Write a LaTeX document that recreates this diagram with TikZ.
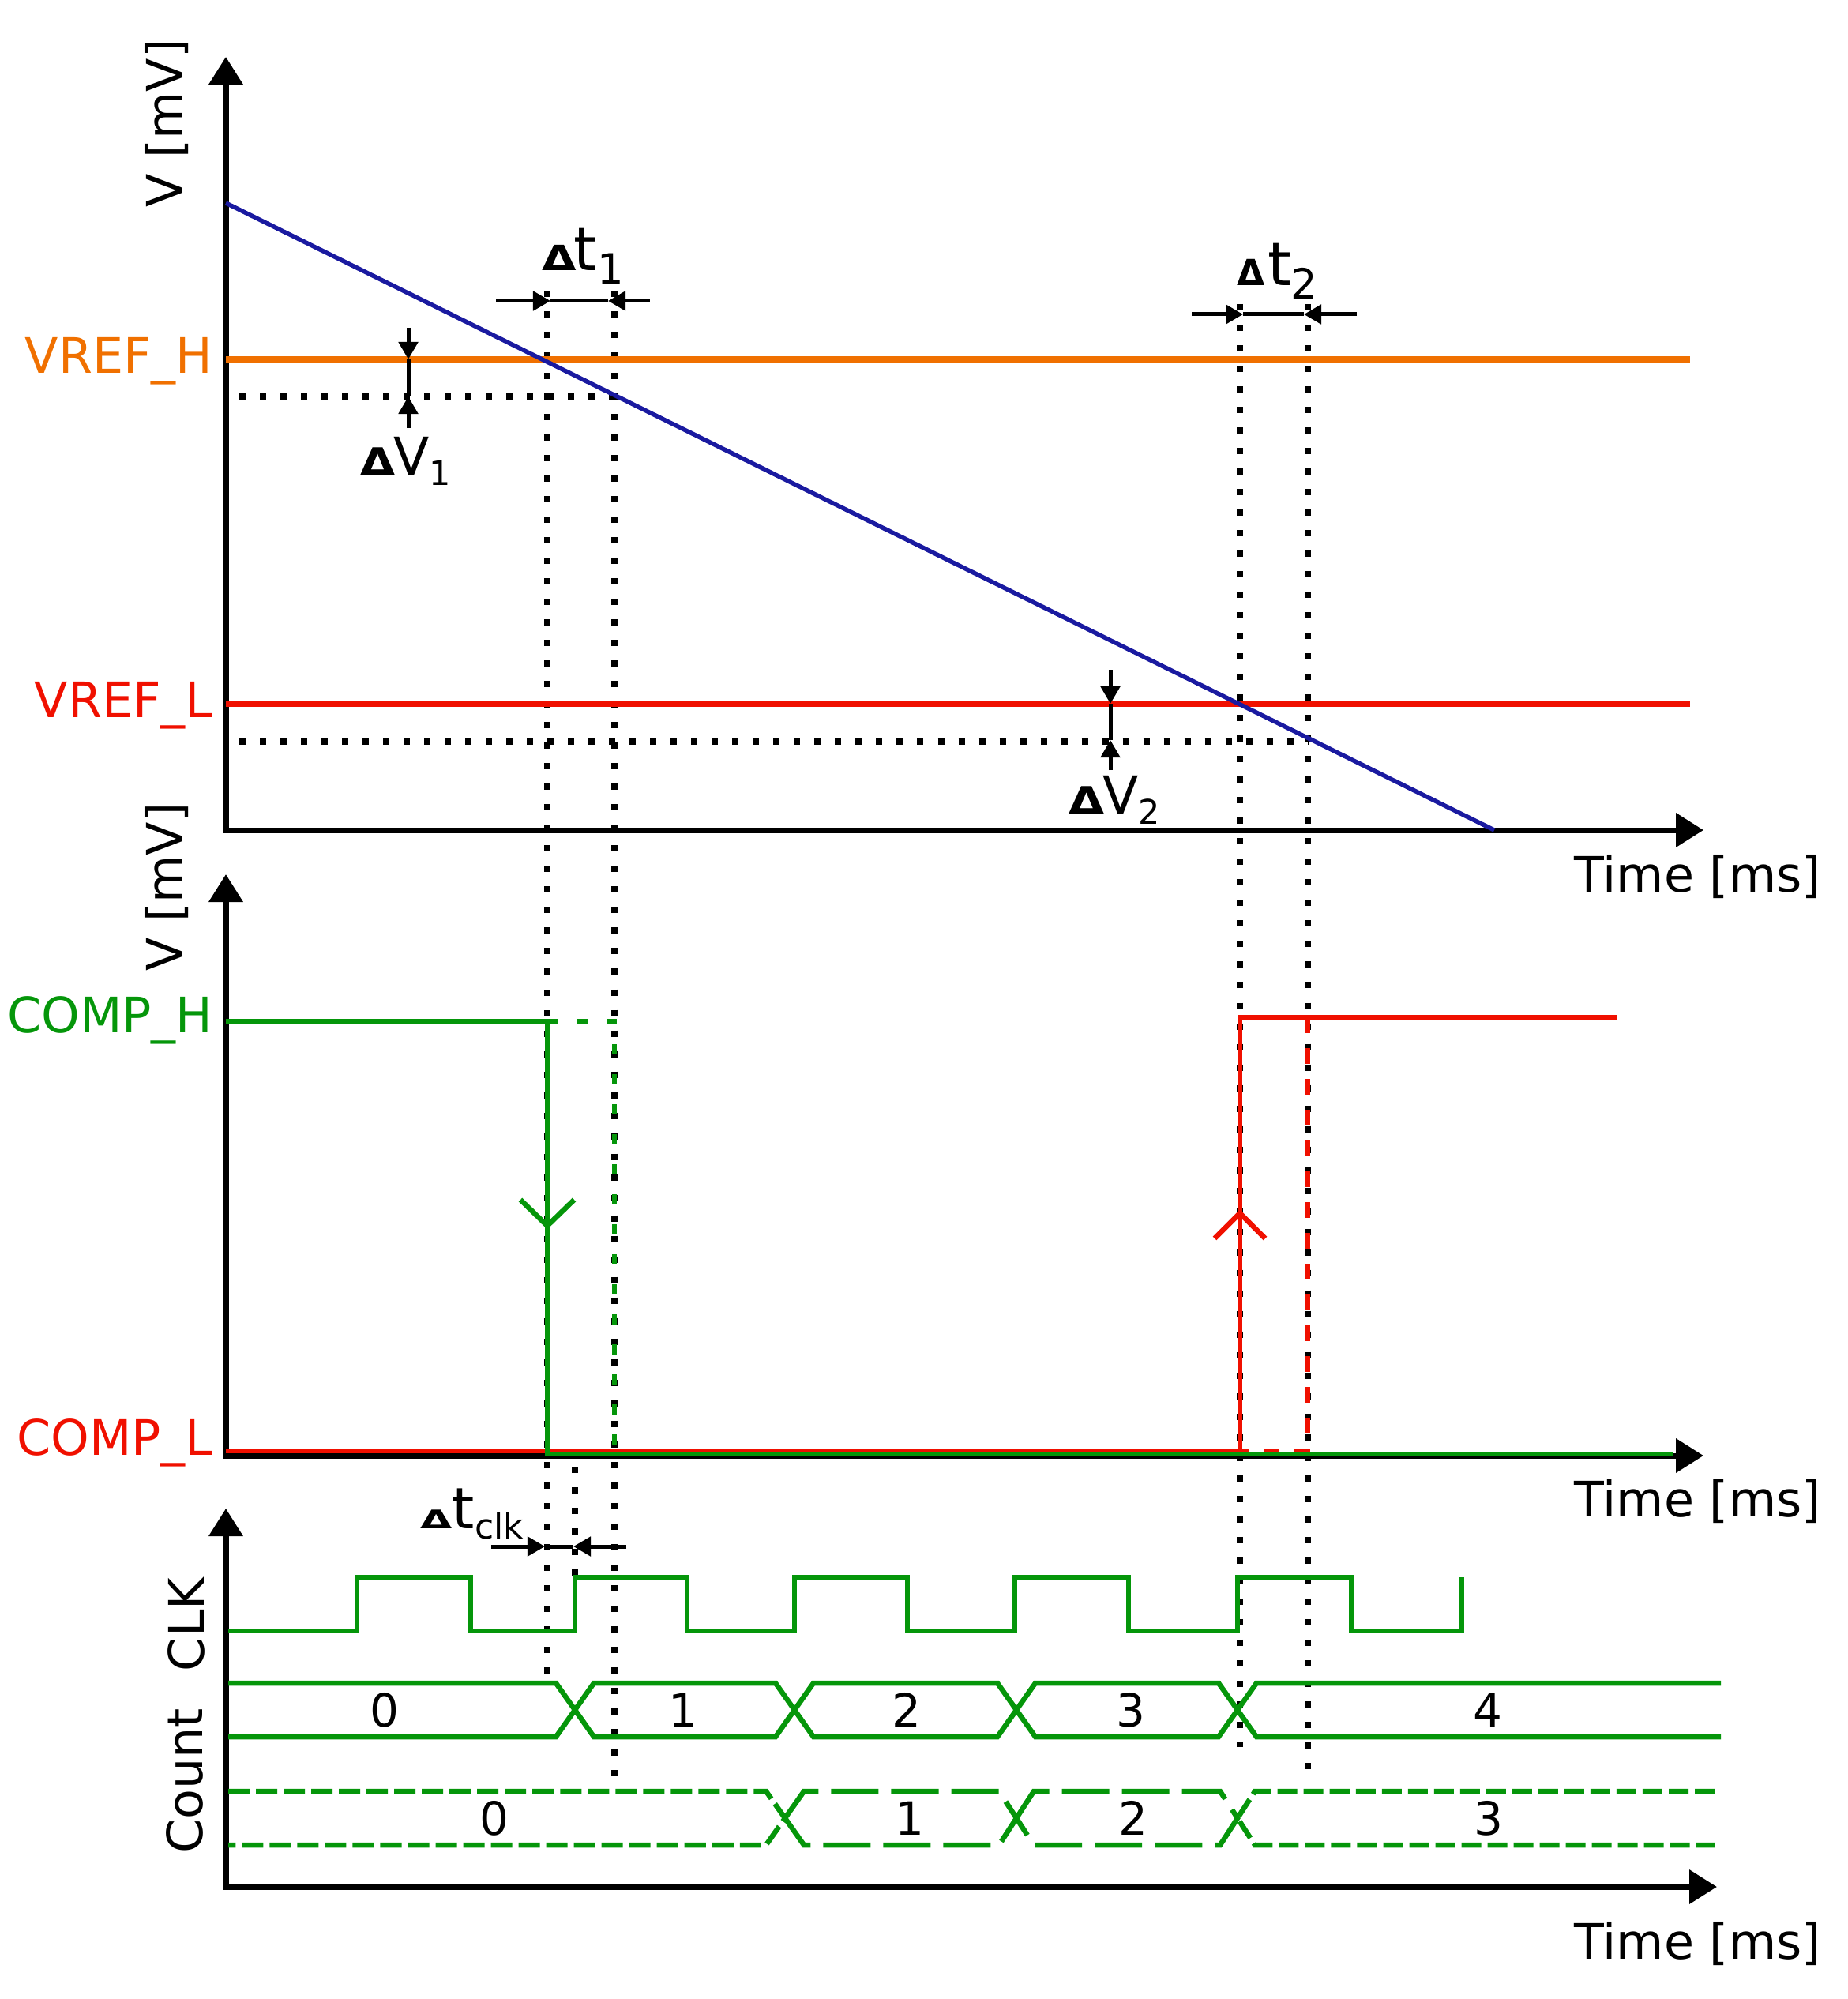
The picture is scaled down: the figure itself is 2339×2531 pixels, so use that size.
\documentclass[tikz,border=0pt]{standalone}
\usepackage{fontspec}
\setmainfont{DejaVu Sans}
\usepackage{graphicx}
\usetikzlibrary{arrows.meta}
\definecolor{vorange}{RGB}{240,112,0}
\definecolor{vred}{RGB}{240,16,0}
\definecolor{vblue}{RGB}{26,26,160}
\definecolor{vgreen}{RGB}{5,150,10}
\newcommand\dtri[2]{\scalebox{#1}[#2]{\bfseries Δ}}
\tikzset{
  axisline/.style={line width=0.07cm},
  axtip/.tip={Triangle[length=0.35cm,width=0.42cm]},
  dimtip/.tip={Triangle[length=0.22cm,width=0.24cm]},
  dimarrow/.style={line width=0.05cm,-dimtip},
  dimline/.style={line width=0.05cm},
  dotline/.style={line width=0.08cm,dash pattern=on 0.08cm off 0.18cm},
  wave/.style={line width=0.065cm,vgreen},
  lbl/.style={font=\fontsize{17.6}{20}\selectfont,inner sep=0pt},
  digit/.style={font=\fontsize{16.5}{19}\selectfont,inner sep=0pt},
}
\begin{document}
\begin{tikzpicture}[x=0.01cm,y=-0.01cm]
\useasboundingbox (0,0) rectangle (2339,2531);

% ---------- dotted guide lines ----------
\draw[dotline] (303,502) -- (778,502);
\draw[dotline] (303,939) -- (1656,939);
\draw[dotline] (693,368) -- (693,2120);
\draw[dotline] (778,368) -- (778,2258);
\draw[dotline] (1570,385) -- (1570,2212);
\draw[dotline] (1656,385) -- (1656,2248);
\draw[dotline] (728,1857) -- (728,1995);

% ---------- axes ----------
\draw[axisline,axtip-axtip] (286,72) -- (286,1051) -- (2157,1051);
\draw[axisline,axtip-axtip] (286,1107) -- (286,1843) -- (2157,1843);
\draw[axisline,axtip-axtip] (286,1910) -- (286,2389) -- (2174,2389);

% ---------- top panel ----------
\draw[vorange,line width=0.075cm] (286,455) -- (2140,455);
\draw[vred,line width=0.075cm] (286,891) -- (2140,891);
\draw[vblue,line width=0.055cm] (286,257) -- (1892,1051);

\node[lbl,rotate=90,anchor=base] (vaxis1) at (230,156) {V [mV]};
\node[lbl,text=vorange,anchor=base east] (vrefh) at (270,473) {VREF\_H};
\node[lbl,text=vred,anchor=base east] (vrefl) at (270,908) {VREF\_L};
\node[lbl,anchor=base west] (time1) at (1993,1129) {Time [ms]};

% delta V1
\coordinate (v1a) at (517,415); \coordinate (v1b) at (517,455);
\coordinate (v1c) at (517,502); \coordinate (v1d) at (517,542);
\draw[dimarrow] (v1a) -- (v1b);
\draw[dimarrow] (v1d) -- (v1c);
\draw[dimline] (v1b) -- (v1c);
\node[inner sep=0pt,anchor=base west] (dv1) at (456,602)
  {\fontsize{18.8}{21}\selectfont\dtri{0.86}{0.72}\kern-0.03em V\raisebox{-0.12cm}{\fontsize{12.2}{14}\selectfont 1}};

% delta V2
\coordinate (v2a) at (1406,848); \coordinate (v2b) at (1406,891);
\coordinate (v2c) at (1406,937); \coordinate (v2d) at (1406,975);
\draw[dimarrow] (v2a) -- (v2b);
\draw[dimarrow] (v2d) -- (v2c);
\draw[dimline] (v2b) -- (v2c);
\node[inner sep=0pt,anchor=base west] (dv2) at (1353,1030)
  {\fontsize{18.8}{21}\selectfont\dtri{0.88}{0.72}\kern-0.03em V\raisebox{-0.13cm}{\fontsize{12.2}{14}\selectfont 2}};

% delta t1
\coordinate (t1a) at (628,381); \coordinate (t1b) at (697,381);
\coordinate (t1c) at (770,381); \coordinate (t1d) at (823,381);
\draw[dimarrow] (t1a) -- (t1b);
\draw[dimarrow] (t1d) -- (t1c);
\draw[dimline] (t1b) -- (t1c);
\node[inner sep=0pt,anchor=base west] (dt1) at (686,343)
  {\fontsize{21.6}{24}\selectfont\dtri{0.74}{0.58}\kern-0.05em t\raisebox{-0.16cm}{\fontsize{15}{17}\selectfont 1}};

% delta t2
\coordinate (t2a) at (1509,398); \coordinate (t2b) at (1574,398);
\coordinate (t2c) at (1651,398); \coordinate (t2d) at (1718,398);
\draw[dimarrow] (t2a) -- (t2b);
\draw[dimarrow] (t2d) -- (t2c);
\draw[dimline] (t2b) -- (t2c);
\node[inner sep=0pt,anchor=base west] (dt2) at (1566,362)
  {\fontsize{21.6}{24}\selectfont\dtri{0.6}{0.6}\kern0.04em t\raisebox{-0.16cm}{\fontsize{15}{17}\selectfont 2}};

% ---------- middle panel ----------
\node[lbl,rotate=90,anchor=base] (vaxis2) at (230,1123) {V [mV]};
\node[lbl,text=vgreen,anchor=base east] (comph) at (270,1307) {COMP\_H};
\node[lbl,text=vred,anchor=base east] (compl) at (270,1842) {COMP\_L};
\node[lbl,anchor=base west] (time2) at (1993,1920) {Time [ms]};

\draw[vred,line width=0.065cm] (286,1837) -- (1570,1837) -- (1570,1288) -- (2047,1288);
\draw[vred,line width=0.065cm,dash pattern=on 0.2cm off 0.19cm] (1656,1288) -- (1656,1837) -- (1570,1837);
\draw[vred,line width=0.065cm] (1538,1568) -- (1570,1536) -- (1602,1568);

\draw[vgreen,line width=0.065cm] (286,1293) -- (693,1293) -- (693,1841) -- (2118,1841);
\draw[vgreen,line width=0.065cm,dash pattern=on 0.13cm off 0.25cm] (693,1293) -- (778,1293) -- (778,1841);
\draw[vgreen,line width=0.065cm] (659,1519) -- (693,1552) -- (727,1519);

% ---------- bottom panel ----------
\node[lbl,rotate=90,anchor=base] (clk) at (258,2057) {CLK};
\node[lbl,rotate=90,anchor=base] (count) at (256,2255) {Count};
\node[lbl,anchor=base west] (time3) at (1993,2480) {Time [ms]};

% delta t clk
\coordinate (tca) at (622,1958); \coordinate (tcb) at (690,1958);
\coordinate (tcc) at (726,1958); \coordinate (tcd) at (793,1958);
\draw[dimarrow] (tca) -- (tcb);
\draw[dimarrow] (tcd) -- (tcc);
\draw[dimline] (tcb) -- (tcc);
\node[inner sep=0pt,anchor=base west] (dtclk) at (532,1935)
  {\fontsize{20.5}{23}\selectfont\dtri{0.72}{0.45}\kern0.0em t\raisebox{-0.13cm}{\fontsize{12.5}{14}\selectfont clk}};

% clock
\draw[wave] (289,2065) -- (452,2065) -- (452,1997) -- (596,1997) -- (596,2065)
  -- (728,2065) -- (728,1997) -- (870,1997) -- (870,2065)
  -- (1006,2065) -- (1006,1997) -- (1149,1997) -- (1149,2065)
  -- (1285,2065) -- (1285,1997) -- (1429,1997) -- (1429,2065)
  -- (1567,2065) -- (1567,1997) -- (1711,1997) -- (1711,2065)
  -- (1851,2065) -- (1851,1997);

% count (solid)
\def\ct{2131}\def\cb{2199}\def\cm{2165}
\draw[wave] (289,\ct) -- (704,\ct) -- (728,\cm) -- (704,\cb) -- (289,\cb);
\draw[wave] (728,\cm) -- (752,\ct) -- (982,\ct) -- (1006,\cm) -- (982,\cb) -- (752,\cb) -- cycle;
\draw[wave] (1006,\cm) -- (1030,\ct) -- (1263,\ct) -- (1287,\cm) -- (1263,\cb) -- (1030,\cb) -- cycle;
\draw[wave] (1287,\cm) -- (1311,\ct) -- (1543,\ct) -- (1567,\cm) -- (1543,\cb) -- (1311,\cb) -- cycle;
\draw[wave] (2179,\ct) -- (1591,\ct) -- (1567,\cm) -- (1591,\cb) -- (2179,\cb);
\node[digit] (c0) at (487,\cm) {0};
\node[digit] (c1) at (865,\cm) {1};
\node[digit] (c2) at (1148,\cm) {2};
\node[digit] (c3) at (1432,\cm) {3};
\node[digit] (c4) at (1884,\cm) {4};

% count (dashed)
\def\dt{2268}\def\db{2336}\def\dm{2302}
\draw[wave,dash pattern=on 0.27cm off 0.08cm] (289,\dt) -- (970,\dt) -- (994,\dm) -- (970,\db) -- (289,\db);
\draw[wave,dash pattern=on 0.6cm off 0.16cm] (994,\dm) -- (1018,\dt) -- (1265,\dt) -- (1287,\dm) -- (1265,\db) -- (1018,\db) -- cycle;
\draw[wave,dash pattern=on 0.6cm off 0.16cm] (1287,\dm) -- (1309,\dt) -- (1545,\dt) -- (1567,\dm) -- (1545,\db) -- (1309,\db) -- cycle;
\draw[wave,dash pattern=on 0.25cm off 0.08cm] (2171,\dt) -- (1589,\dt) -- (1567,\dm) -- (1589,\db) -- (2171,\db);
\node[digit] (d0) at (626,\dm) {0};
\node[digit] (d1) at (1152,\dm) {1};
\node[digit] (d2) at (1435,\dm) {2};
\node[digit] (d3) at (1885,\dm) {3};
\end{tikzpicture}
\end{document}
